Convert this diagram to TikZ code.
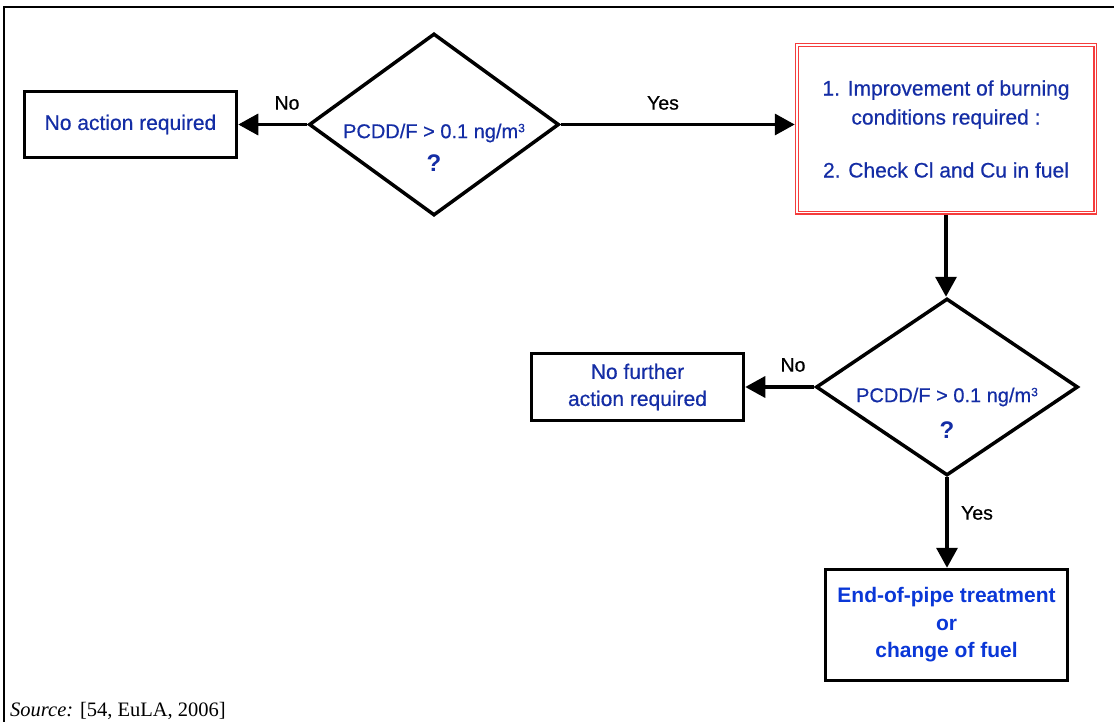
\documentclass[tikz,border=0pt]{standalone}
\usepackage{fontspec}
\setmainfont{Liberation Serif}
\newfontfamily\arialf{Liberation Sans}
\newfontfamily\arialh{Liberation Sans}[FakeBold=0.5]
\usetikzlibrary{shapes.geometric,arrows.meta}
\definecolor{dblue}{RGB}{20,45,165}
\definecolor{bblue}{RGB}{10,55,215}
\definecolor{lred}{RGB}{245,60,60}
\newcommand{\cubed}{\raisebox{6pt}{\fontsize{12}{12}\selectfont 3}}
\begin{document}
\begin{tikzpicture}[x=1pt,y=-1pt,
  box/.style={draw, line width=3.5pt, inner sep=0pt, align=center, text=dblue,
    font=\arialh\fontsize{21}{27}\selectfont},
  redbox/.style={draw=lred, line width=1.2pt, double=white, double distance=1.5pt,
    outer sep=2pt, inner sep=0pt, align=center, text=dblue,
    font=\arialh\fontsize{21}{29}\selectfont},
  dia/.style={draw, diamond, line width=3.5pt, inner sep=0pt},
  dtext/.style={text=dblue, font=\arialh\fontsize{20}{24}\selectfont, inner sep=0pt},
  qmark/.style={text=dblue, font=\arialf\bfseries\fontsize{24}{28}\selectfont, inner sep=0pt},
  lbl/.style={font=\arialh\fontsize{19.5}{23}\selectfont, inner sep=0pt},
  arr/.style={line width=3.5pt, -{Triangle[length=20pt,width=21pt]}},
]
\useasboundingbox (0,0) rectangle (1114,722);
\fill[white] (0,0) rectangle (1114,722);
% frame
\draw[line width=2.5pt] (4,722) -- (4,7) -- (1114,7);

% nodes
\node[box, minimum width=212pt, minimum height=66pt] (a) at (130.5,124.5) {No action required};
\node[dia, minimum width=250pt, minimum height=182pt] (d1) at (434,124.5) {};
\node[dtext] (d1t) at (434,133) {PCDD/F > 0.1 ng/m\cubed};
\node[qmark] (d1q) at (434,163) {?};
\node[redbox, minimum width=298.5pt, minimum height=167.5pt] (rb) at (946,129)
  {1. Improvement of burning\\conditions required :\\[24pt]2. Check Cl and Cu in fuel};
\node[dia, minimum width=262pt, minimum height=177pt] (d2) at (947,387) {};
\node[dtext] (d2t) at (947,397) {PCDD/F > 0.1 ng/m\cubed};
\node[qmark] (d2q) at (947,430) {?};
\node[box, minimum width=212pt, minimum height=67pt] (c) at (637.5,387) {No further\\action required};
\node[box, text=bblue, font=\arialf\bfseries\fontsize{21}{27.5}\selectfont,
  minimum width=242pt, minimum height=111pt] (d) at (946.5,625)
  {End-of-pipe treatment\\or\\change of fuel};

% connectors
\draw[arr] (d1.west) -- (a.east);
\draw[arr] (d1.east) -- (d1.east -| rb.west);
\draw[arr] (rb.south) -- (rb.south |- d2.north);
\draw[arr] (d2.west) -- (c.east);
\draw[arr] (d2.south) -- (d2.south |- d.north);

% labels
\node[lbl] (l1) at (287,103) {No};
\node[lbl] (l2) at (663,103) {Yes};
\node[lbl] (l3) at (793,365) {No};
\node[lbl] (l4) at (977,513) {Yes};

% source
\node[anchor=base west, inner sep=0pt, font=\fontsize{20.5}{24}\selectfont] (src) at (10,716)
  {\textit{Source:} [54, EuLA, 2006]};
\end{tikzpicture}
\end{document}
